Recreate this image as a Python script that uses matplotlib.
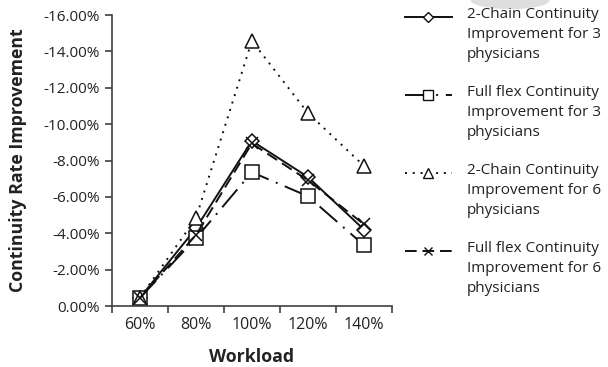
import matplotlib
matplotlib.use("Agg")
import matplotlib.pyplot as plt
from matplotlib.lines import Line2D
from matplotlib.patches import Ellipse
from matplotlib.ticker import PercentFormatter

plt.rcParams['font.family'] = ['Open Sans', 'DejaVu Sans']
plt.rcParams['axes.unicode_minus'] = False

workload = ["60%", "80%", "100%", "120%", "140%"]
ytick_vals = [0.0, -0.02, -0.04, -0.06, -0.08, -0.10, -0.12, -0.14, -0.16]

# continuity rate improvement (fractions, negative = improvement)
chain2_3 = [-0.0045, -0.0427, -0.0908, -0.0710, -0.0421]
flex_3 = [-0.0045, -0.0372, -0.0736, -0.0604, -0.0335]
chain2_6 = [-0.0045, -0.0482, -0.1458, -0.1062, -0.0771]
flex_6 = [-0.0045, -0.0390, -0.0894, -0.0692, -0.0450]

labels = [
    "2-Chain Continuity\nImprovement for 3\nphysicians",
    "Full flex Continuity\nImprovement for 3\nphysicians",
    "2-Chain Continuity\nImprovement for 6\nphysicians",
    "Full flex Continuity\nImprovement for 6\nphysicians",
]

W, H = 608, 367
fig = plt.figure(figsize=(W / 100, H / 100), dpi=100)
ax = fig.add_axes([0.184, 0.166, 0.4605, 0.793])

x = list(range(len(workload)))
c = "#111111"
styles = [
    dict(ls="-", marker="D", ms=7, lms=5.5),
    dict(ls=(0, (12, 4, 1, 4)), marker="s", ms=10, lms=6.5),
    dict(ls=(0, (1, 3)), marker="^", ms=10, lms=6.5),
    dict(ls=(0, (6, 3)), marker="x", ms=8, lms=6),
]
series = [chain2_3, flex_3, chain2_6, flex_6]

for vals, st in zip(series, styles):
    ax.plot(x, vals, color=c, lw=1.4, ls=st["ls"], marker=st["marker"],
            ms=st["ms"], mfc="white", mec=c, mew=1.1)

ax.set_xlim(-0.5, 4.5)
ax.set_ylim(0, -0.16)
ax.set_yticks(ytick_vals)
ax.yaxis.set_major_formatter(PercentFormatter(1.0, decimals=2))
ax.set_xticks(x)
ax.set_xticklabels(workload)
ax.set_xticks([i - 0.5 for i in range(6)], minor=True)
ax.tick_params(axis="x", which="major", length=0, pad=8, labelsize=11.5, colors="#222222")
ax.tick_params(axis="x", which="minor", length=5, width=1.2, color="#404040")
ax.tick_params(axis="y", length=5, width=1.2, color="#404040", labelsize=11,
               labelcolor="#222222")

for s in ["top", "right"]:
    ax.spines[s].set_visible(False)
for s in ["left", "bottom"]:
    ax.spines[s].set_color("#404040")
    ax.spines[s].set_linewidth(1.2)

ax.set_ylabel("Continuity Rate Improvement", fontsize=12.8, fontweight="bold",
              color="#222222", labelpad=12)
ax.set_xlabel("Workload", fontsize=12.8, fontweight="bold", color="#222222", labelpad=11)

# legend: handle sits level with the first line of each label
for i, (st, lab) in enumerate(zip(styles, labels)):
    yp = 17 + 78 * i
    fy = 1 - yp / H
    fig.add_artist(Line2D([405 / W, 428 / W, 452 / W], [fy, fy, fy],
                          transform=fig.transFigure, color=c, lw=1.4, ls=st["ls"],
                          marker=st["marker"], ms=st["lms"], markevery=[1],
                          mfc="white", mec=c, mew=1.0))
    fig.text(467 / W, 1 - (yp - 10) / H, lab, fontsize=11, color="#222222",
             va="top", ha="left", linespacing=1.45)

# light grey tab at the top edge
fig.patches.append(Ellipse((0.839, 1.0), 0.13, 0.05, transform=fig.transFigure,
                           facecolor="#d0d0d0", edgecolor="none", alpha=0.7))

fig.savefig("out.png", dpi=100)
